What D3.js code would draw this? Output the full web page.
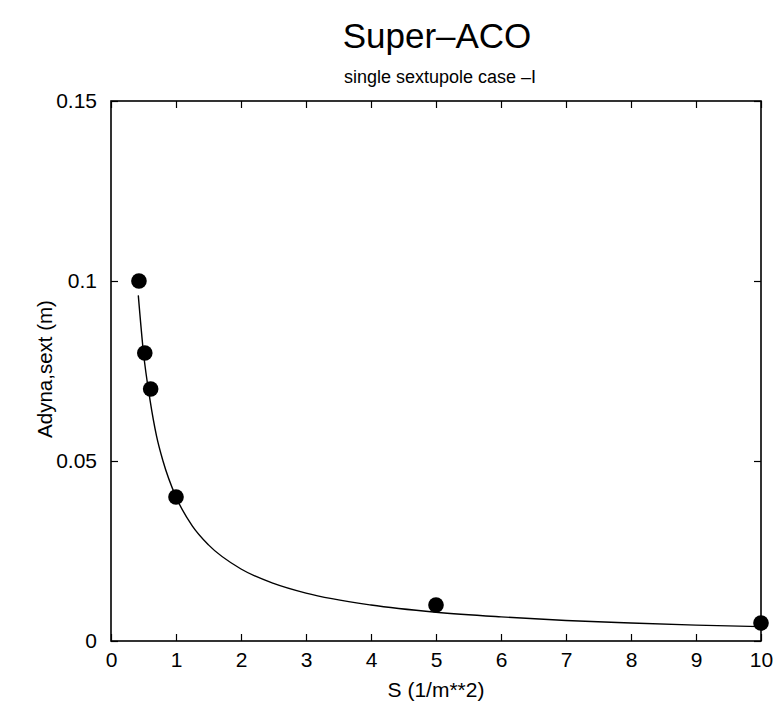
<!DOCTYPE html>
<html>
<head>
<meta charset="utf-8">
<script src="https://cdn.jsdelivr.net/npm/d3@7/dist/d3.min.js"></script>
<style>
  html, body { margin: 0; padding: 0; background: #fff; }
  svg { display: block; }
  text { font-family: "Liberation Sans", Arial, Helvetica, sans-serif; fill: #000; }
</style>
</head>
<body>
<svg id="chart" width="777" height="711"></svg>
<script>
// Measured points
const pointS = [0.43, 0.52, 0.61, 1.0, 5.0, 10.0];
const pointA = [0.100, 0.080, 0.070, 0.040, 0.010, 0.005];

// Fitted curve
const curveS = [0.42, 0.5, 0.6, 0.7, 0.8, 1.0, 1.25, 1.5, 2.0, 2.5, 3.0, 4.0, 5.0, 6.0, 7.0, 8.0, 9.0, 10.0];
const curveA = [0.096, 0.080, 0.067, 0.057, 0.050, 0.040, 0.032, 0.0267, 0.020, 0.016, 0.0133, 0.010, 0.008, 0.0067, 0.0057, 0.005, 0.0044, 0.004];

const xTicks = [0, 1, 2, 3, 4, 5, 6, 7, 8, 9, 10];
const yTicks = [0, 0.05, 0.1, 0.15];
const yTickLabels = ["0", "0.05", "0.1", "0.15"];

const titleText = "Super\u2013ACO";
const subtitleText = "single sextupole case \u2013I";
const xLabelText = "S (1/m**2)";
const yLabelText = "Adyna,sext (m)";

(function () {
const svg = d3.select("#chart");
const mLeft = 111, mRight = 761, mTop = 101, mBottom = 641;

const x = d3.scaleLinear().domain([0, 10]).range([mLeft, mRight]);
const y = d3.scaleLinear().domain([0, 0.15]).range([mBottom, mTop]);

const tickLen = 7;

const axisStyle = g => {
  g.selectAll(".domain").remove();
  g.selectAll("line").attr("stroke", "#000").attr("stroke-width", 1.2);
};

svg.append("g").attr("transform", `translate(0,${mBottom})`)
  .call(d3.axisBottom(x).tickValues(xTicks).tickSize(-tickLen).tickFormat(d3.format("d")))
  .call(axisStyle)
  .call(g => g.selectAll("text").attr("font-size", 21).attr("dy", "0.71em").attr("y", 11));

svg.append("g").attr("transform", `translate(0,${mTop})`)
  .call(d3.axisTop(x).tickValues(xTicks).tickSize(-tickLen).tickFormat(""))
  .call(axisStyle);

svg.append("g").attr("transform", `translate(${mLeft},0)`)
  .call(d3.axisLeft(y).tickValues(yTicks).tickSize(-tickLen)
    .tickFormat((d, i) => yTickLabels[i]))
  .call(axisStyle)
  .call(g => g.selectAll("text").attr("font-size", 21).attr("x", -14));

svg.append("g").attr("transform", `translate(${mRight},0)`)
  .call(d3.axisRight(y).tickValues(yTicks).tickSize(-tickLen).tickFormat(""))
  .call(axisStyle);

svg.append("rect")
  .attr("x", mLeft).attr("y", mTop)
  .attr("width", mRight - mLeft).attr("height", mBottom - mTop)
  .attr("fill", "none").attr("stroke", "#000").attr("stroke-width", 1.6);

const curveData = curveS.map((s, i) => [s, curveA[i]]);
svg.append("path")
  .datum(curveData)
  .attr("fill", "none")
  .attr("stroke", "#000")
  .attr("stroke-width", 1.4)
  .attr("d", d3.line().x(d => x(d[0])).y(d => y(d[1])).curve(d3.curveMonotoneX));

const pts = pointS.map((s, i) => [s, pointA[i]]);
svg.append("g").selectAll("circle")
  .data(pts).join("circle")
  .attr("cx", d => x(d[0]))
  .attr("cy", d => y(d[1]))
  .attr("r", 7.8)
  .attr("fill", "#000");

svg.append("text").attr("x", 437).attr("y", 48)
  .attr("text-anchor", "middle").attr("font-size", 35).text(titleText);
svg.append("text").attr("x", 440).attr("y", 83)
  .attr("text-anchor", "middle").attr("font-size", 18).text(subtitleText);

svg.append("text").attr("x", 436).attr("y", 697)
  .attr("text-anchor", "middle").attr("font-size", 21).text(xLabelText);

svg.append("text")
  .attr("transform", `translate(52,369) rotate(-90)`)
  .attr("text-anchor", "middle").attr("font-size", 20.5).text(yLabelText);
})();
</script>
</body>
</html>
